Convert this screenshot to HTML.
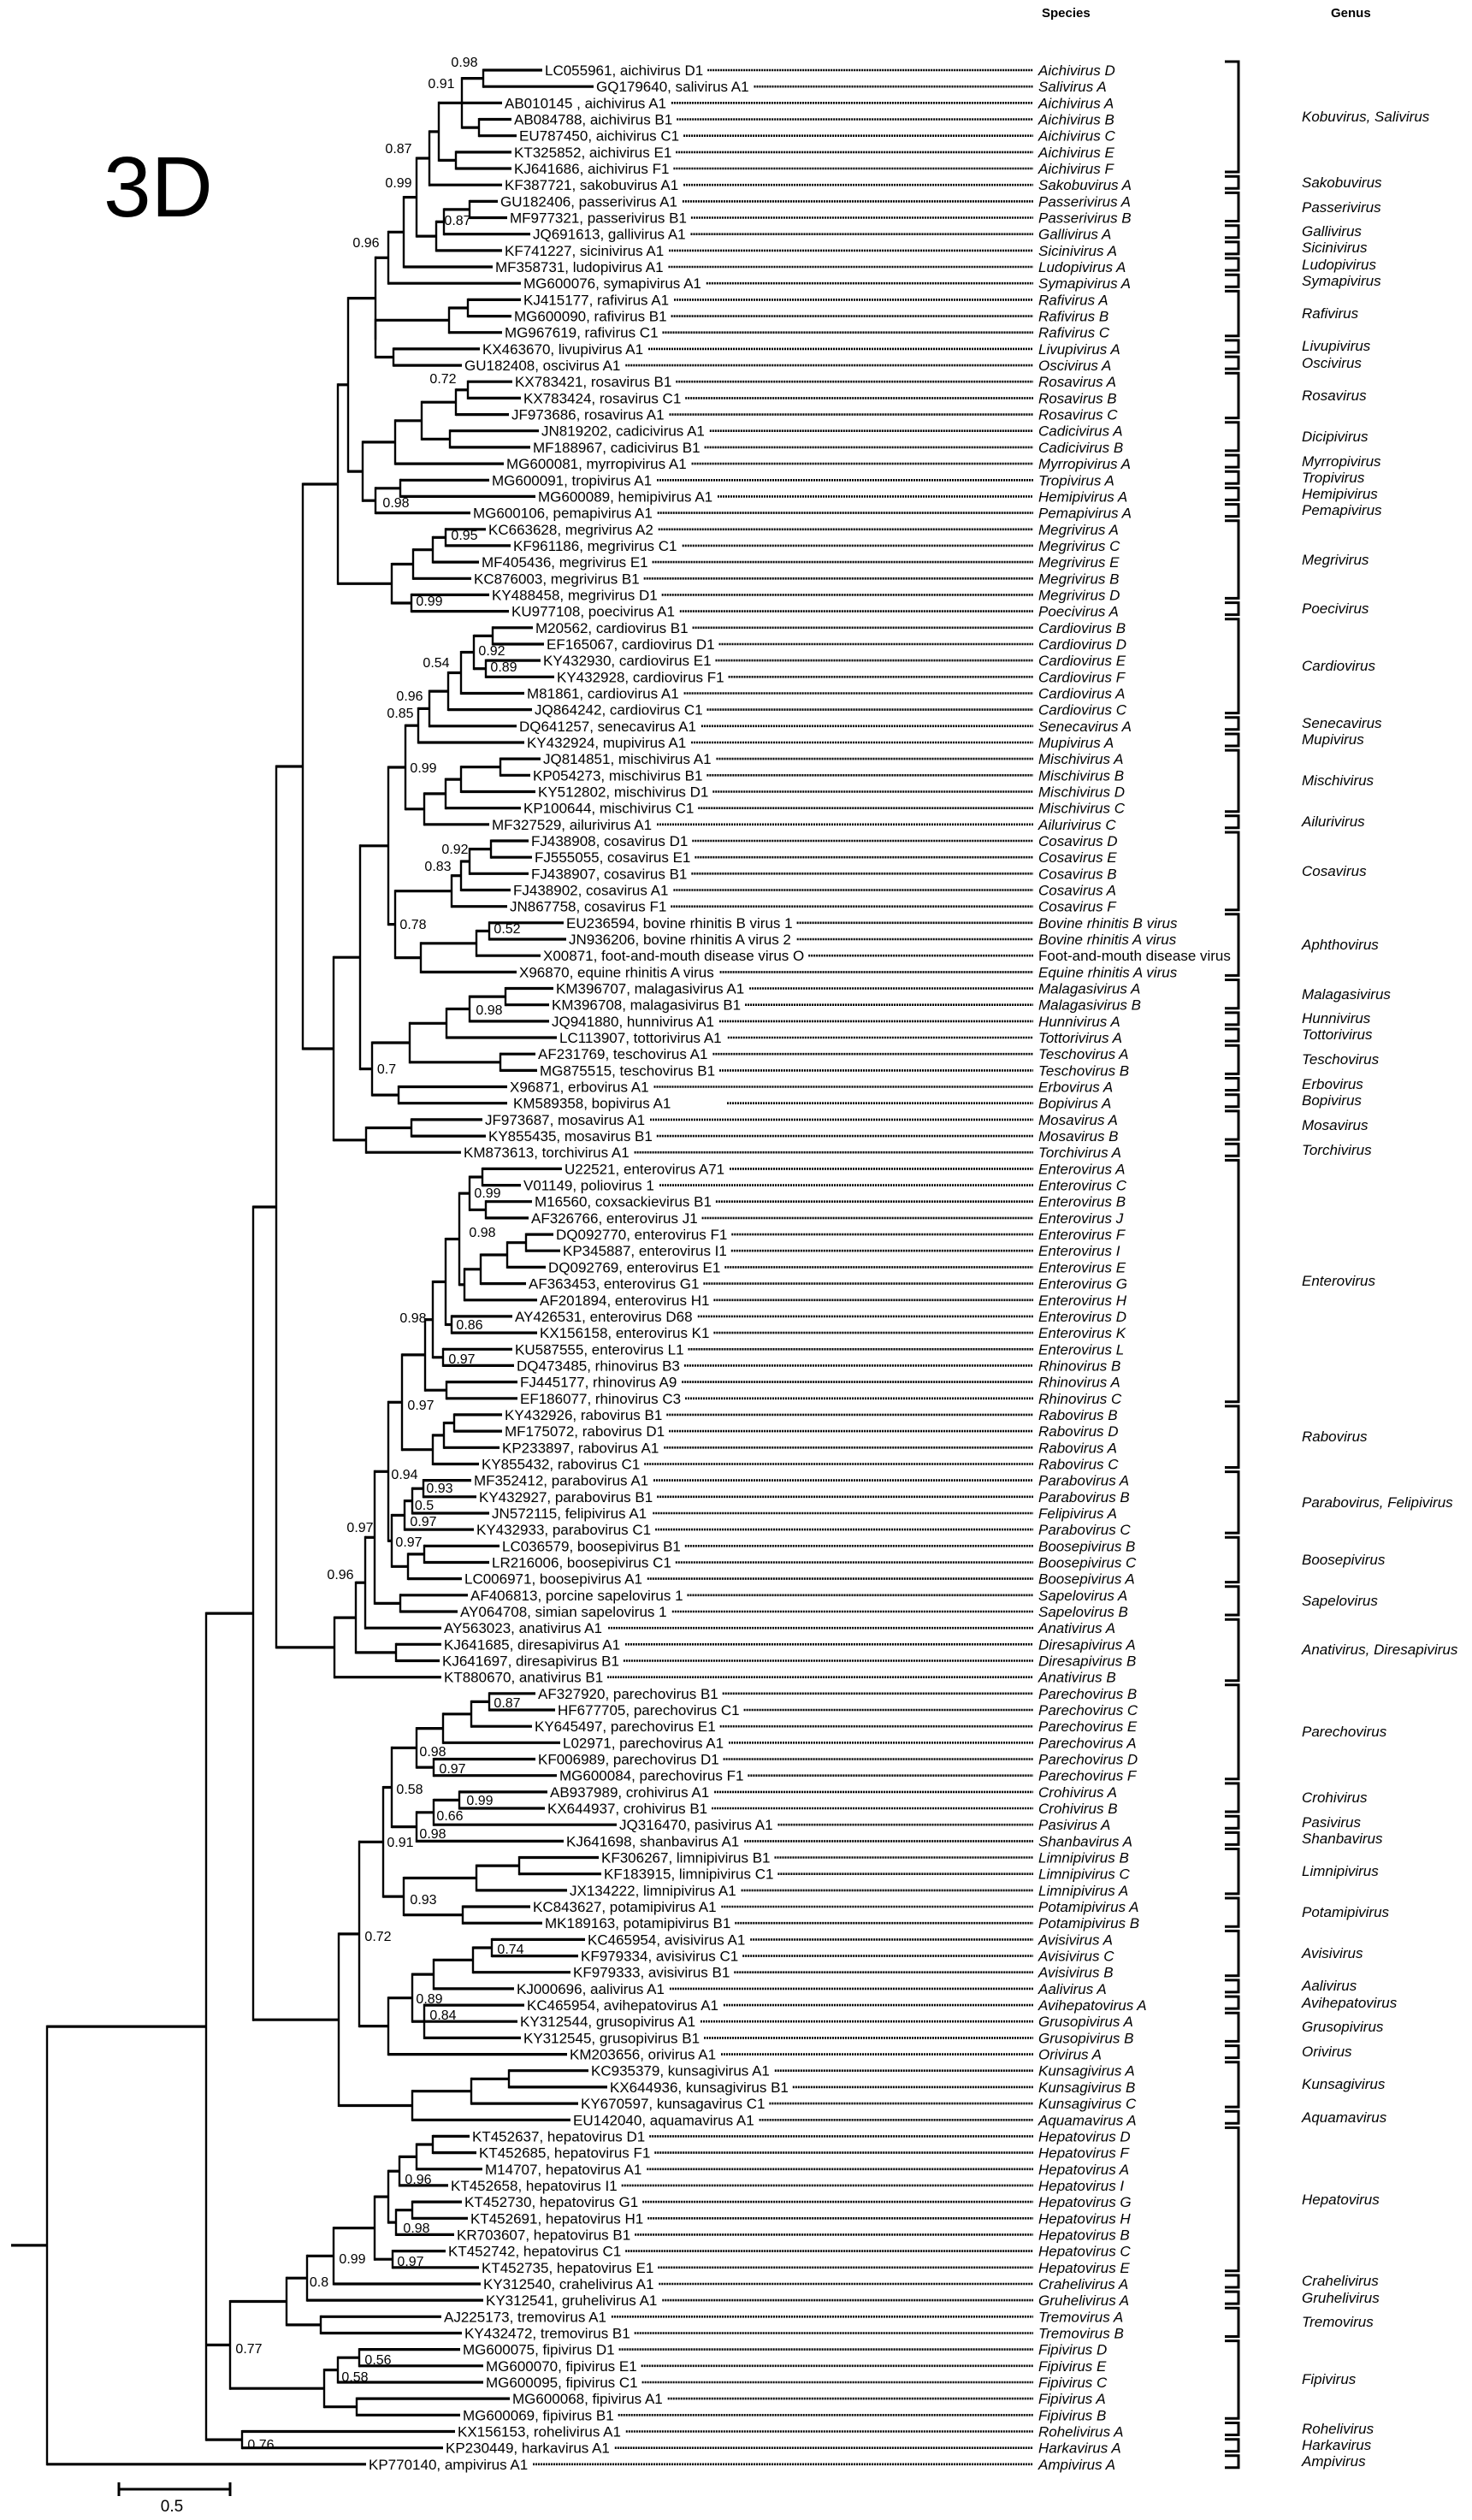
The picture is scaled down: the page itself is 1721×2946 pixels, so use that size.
<!DOCTYPE html>
<html><head><meta charset="utf-8">
<style>
html,body{margin:0;padding:0;background:#fff;}
svg{display:block;font-family:"Liberation Sans",Arial,sans-serif;}
.lab{font-size:17px;fill:#000;}
.sp{font-size:17px;font-style:italic;fill:#000;}
.gn{font-size:17px;font-style:italic;fill:#000;}
.bs{font-size:16px;fill:#000;text-anchor:middle;}
</style></head>
<body>
<svg id="s" width="1721" height="2946" viewBox="0 0 1721 2946" xmlns="http://www.w3.org/2000/svg">
<g id="lines"></g>
<text x="121" y="253" font-size="100" fill="#000">3D</text>
<text x="1218" y="20" font-size="15" font-weight="bold">Species</text>
<text x="1556" y="20" font-size="15" font-weight="bold">Genus</text>

<text id="labs" class="lab"><tspan x="637" y="88">LC055961, aichivirus D1</tspan><tspan x="697" dy="19.17">GQ179640, salivirus A1</tspan><tspan x="590" dy="19.17">AB010145 , aichivirus A1</tspan><tspan x="601" dy="19.17">AB084788, aichivirus B1</tspan><tspan x="607" dy="19.17">EU787450, aichivirus C1</tspan><tspan x="601" dy="19.17">KT325852, aichivirus E1</tspan><tspan x="601" dy="19.17">KJ641686, aichivirus F1</tspan><tspan x="590" dy="19.17">KF387721, sakobuvirus A1</tspan><tspan x="585" dy="19.17">GU182406, passerivirus A1</tspan><tspan x="596" dy="19.17">MF977321, passerivirus B1</tspan><tspan x="623" dy="19.17">JQ691613, gallivirus A1</tspan><tspan x="590" dy="19.17">KF741227, sicinivirus A1</tspan><tspan x="579" dy="19.17">MF358731, ludopivirus A1</tspan><tspan x="612" dy="19.17">MG600076, symapivirus A1</tspan><tspan x="612" dy="19.17">KJ415177, rafivirus A1</tspan><tspan x="601" dy="19.17">MG600090, rafivirus B1</tspan><tspan x="590" dy="19.17">MG967619, rafivirus C1</tspan><tspan x="564" dy="19.17">KX463670, livupivirus A1</tspan><tspan x="543" dy="19.17">GU182408, oscivirus A1</tspan><tspan x="602" dy="19.17">KX783421, rosavirus B1</tspan><tspan x="612" dy="19.17">KX783424, rosavirus C1</tspan><tspan x="598" dy="19.17">JF973686, rosavirus A1</tspan><tspan x="633" dy="19.17">JN819202, cadicivirus A1</tspan><tspan x="623" dy="19.17">MF188967, cadicivirus B1</tspan><tspan x="592" dy="19.17">MG600081, myrropivirus A1</tspan><tspan x="575" dy="19.17">MG600091, tropivirus A1</tspan><tspan x="629" dy="19.17">MG600089, hemipivirus A1</tspan><tspan x="553" dy="19.17">MG600106, pemapivirus A1</tspan><tspan x="571" dy="19.17">KC663628, megrivirus A2</tspan><tspan x="600" dy="19.17">KF961186, megrivirus C1</tspan><tspan x="563" dy="19.17">MF405436, megrivirus E1</tspan><tspan x="554" dy="19.17">KC876003, megrivirus B1</tspan><tspan x="575" dy="19.17">KY488458, megrivirus D1</tspan><tspan x="598" dy="19.17">KU977108, poecivirus A1</tspan><tspan x="626" dy="19.17">M20562, cardiovirus B1</tspan><tspan x="639" dy="19.17">EF165067, cardiovirus D1</tspan><tspan x="635" dy="19.17">KY432930, cardiovirus E1</tspan><tspan x="651" dy="19.17">KY432928, cardiovirus F1</tspan><tspan x="616" dy="19.17">M81861, cardiovirus A1</tspan><tspan x="625" dy="19.17">JQ864242, cardiovirus C1</tspan><tspan x="607" dy="19.17">DQ641257, senecavirus A1</tspan><tspan x="616" dy="19.17">KY432924, mupivirus A1</tspan><tspan x="635" dy="19.17">JQ814851, mischivirus A1</tspan><tspan x="623" dy="19.17">KP054273, mischivirus B1</tspan><tspan x="629" dy="19.17">KY512802, mischivirus D1</tspan><tspan x="612" dy="19.17">KP100644, mischivirus C1</tspan><tspan x="575" dy="19.17">MF327529, ailurivirus A1</tspan><tspan x="621" dy="19.17">FJ438908, cosavirus D1</tspan><tspan x="625" dy="19.17">FJ555055, cosavirus E1</tspan><tspan x="621" dy="19.17">FJ438907, cosavirus B1</tspan><tspan x="600" dy="19.17">FJ438902, cosavirus A1</tspan><tspan x="596" dy="19.17">JN867758, cosavirus F1</tspan><tspan x="662" dy="19.17">EU236594, bovine rhinitis B virus 1</tspan><tspan x="665" dy="19.17">JN936206, bovine rhinitis A virus 2</tspan><tspan x="635" dy="19.17">X00871, foot-and-mouth disease virus O</tspan><tspan x="607" dy="19.17">X96870, equine rhinitis A virus</tspan><tspan x="650" dy="19.17">KM396707, malagasivirus A1</tspan><tspan x="645" dy="19.17">KM396708, malagasivirus B1</tspan><tspan x="645" dy="19.17">JQ941880, hunnivirus A1</tspan><tspan x="654" dy="19.17">LC113907, tottorivirus A1</tspan><tspan x="629" dy="19.17">AF231769, teschovirus A1</tspan><tspan x="631" dy="19.17">MG875515, teschovirus B1</tspan><tspan x="596" dy="19.17">X96871, erbovirus A1</tspan><tspan x="600" dy="19.17">KM589358, bopivirus A1</tspan><tspan x="567" dy="19.17">JF973687, mosavirus A1</tspan><tspan x="571" dy="19.17">KY855435, mosavirus B1</tspan><tspan x="542" dy="19.17">KM873613, torchivirus A1</tspan><tspan x="660" dy="19.17">U22521, enterovirus A71</tspan><tspan x="612" dy="19.17">V01149, poliovirus 1</tspan><tspan x="625" dy="19.17">M16560, coxsackievirus B1</tspan><tspan x="621" dy="19.17">AF326766, enterovirus J1</tspan><tspan x="650" dy="19.17">DQ092770, enterovirus F1</tspan><tspan x="658" dy="19.17">KP345887, enterovirus I1</tspan><tspan x="641" dy="19.17">DQ092769, enterovirus E1</tspan><tspan x="618" dy="19.17">AF363453, enterovirus G1</tspan><tspan x="631" dy="19.17">AF201894, enterovirus H1</tspan><tspan x="602" dy="19.17">AY426531, enterovirus D68</tspan><tspan x="631" dy="19.17">KX156158, enterovirus K1</tspan><tspan x="602" dy="19.17">KU587555, enterovirus L1</tspan><tspan x="604" dy="19.17">DQ473485, rhinovirus B3</tspan><tspan x="608" dy="19.17">FJ445177, rhinovirus A9</tspan><tspan x="608" dy="19.17">EF186077, rhinovirus C3</tspan><tspan x="590" dy="19.17">KY432926, rabovirus B1</tspan><tspan x="590" dy="19.17">MF175072, rabovirus D1</tspan><tspan x="587" dy="19.17">KP233897, rabovirus A1</tspan><tspan x="563" dy="19.17">KY855432, rabovirus C1</tspan><tspan x="554" dy="19.17">MF352412, parabovirus A1</tspan><tspan x="560" dy="19.17">KY432927, parabovirus B1</tspan><tspan x="575" dy="19.17">JN572115, felipivirus A1</tspan><tspan x="557" dy="19.17">KY432933, parabovirus C1</tspan><tspan x="587" dy="19.17">LC036579, boosepivirus B1</tspan><tspan x="575" dy="19.17">LR216006, boosepivirus C1</tspan><tspan x="543" dy="19.17">LC006971, boosepivirus A1</tspan><tspan x="550" dy="19.17">AF406813, porcine sapelovirus 1</tspan><tspan x="538" dy="19.17">AY064708, simian sapelovirus 1</tspan><tspan x="519" dy="19.17">AY563023, anativirus A1</tspan><tspan x="519" dy="19.17">KJ641685, diresapivirus A1</tspan><tspan x="517" dy="19.17">KJ641697, diresapivirus B1</tspan><tspan x="519" dy="19.17">KT880670, anativirus B1</tspan><tspan x="629" dy="19.17">AF327920, parechovirus B1</tspan><tspan x="652" dy="19.17">HF677705, parechovirus C1</tspan><tspan x="625" dy="19.17">KY645497, parechovirus E1</tspan><tspan x="658" dy="19.17">L02971, parechovirus A1</tspan><tspan x="629" dy="19.17">KF006989, parechovirus D1</tspan><tspan x="654" dy="19.17">MG600084, parechovirus F1</tspan><tspan x="643" dy="19.17">AB937989, crohivirus A1</tspan><tspan x="640" dy="19.17">KX644937, crohivirus B1</tspan><tspan x="724" dy="19.17">JQ316470, pasivirus A1</tspan><tspan x="662" dy="19.17">KJ641698, shanbavirus A1</tspan><tspan x="703" dy="19.17">KF306267, limnipivirus B1</tspan><tspan x="706" dy="19.17">KF183915, limnipivirus C1</tspan><tspan x="666" dy="19.17">JX134222, limnipivirus A1</tspan><tspan x="623" dy="19.17">KC843627, potamipivirus A1</tspan><tspan x="637" dy="19.17">MK189163, potamipivirus B1</tspan><tspan x="687" dy="19.17">KC465954, avisivirus A1</tspan><tspan x="679" dy="19.17">KF979334, avisivirus C1</tspan><tspan x="670" dy="19.17">KF979333, avisivirus B1</tspan><tspan x="604" dy="19.17">KJ000696, aalivirus A1</tspan><tspan x="616" dy="19.17">KC465954, avihepatovirus A1</tspan><tspan x="608" dy="19.17">KY312544, grusopivirus A1</tspan><tspan x="612" dy="19.17">KY312545, grusopivirus B1</tspan><tspan x="666" dy="19.17">KM203656, orivirus A1</tspan><tspan x="691" dy="19.17">KC935379, kunsagivirus A1</tspan><tspan x="713" dy="19.17">KX644936, kunsagivirus B1</tspan><tspan x="679" dy="19.17">KY670597, kunsagavirus C1</tspan><tspan x="670" dy="19.17">EU142040, aquamavirus A1</tspan><tspan x="552" dy="19.17">KT452637, hepatovirus D1</tspan><tspan x="560" dy="19.17">KT452685, hepatovirus F1</tspan><tspan x="567" dy="19.17">M14707, hepatovirus A1</tspan><tspan x="527" dy="19.17">KT452658, hepatovirus I1</tspan><tspan x="543" dy="19.17">KT452730, hepatovirus G1</tspan><tspan x="550" dy="19.17">KT452691, hepatovirus H1</tspan><tspan x="534" dy="19.17">KR703607, hepatovirus B1</tspan><tspan x="524" dy="19.17">KT452742, hepatovirus C1</tspan><tspan x="563" dy="19.17">KT452735, hepatovirus E1</tspan><tspan x="565" dy="19.17">KY312540, crahelivirus A1</tspan><tspan x="568" dy="19.17">KY312541, gruhelivirus A1</tspan><tspan x="519" dy="19.17">AJ225173, tremovirus A1</tspan><tspan x="543" dy="19.17">KY432472, tremovirus B1</tspan><tspan x="541" dy="19.17">MG600075, fipivirus D1</tspan><tspan x="568" dy="19.17">MG600070, fipivirus E1</tspan><tspan x="568" dy="19.17">MG600095, fipivirus C1</tspan><tspan x="599" dy="19.17">MG600068, fipivirus A1</tspan><tspan x="541" dy="19.17">MG600069, fipivirus B1</tspan><tspan x="535" dy="19.17">KX156153, rohelivirus A1</tspan><tspan x="521" dy="19.17">KP230449, harkavirus A1</tspan><tspan x="431" dy="19.17">KP770140, ampivirus A1</tspan></text>

<text class="sp"><tspan x="1214" y="88">Aichivirus D</tspan><tspan x="1214" dy="19.17">Salivirus A</tspan><tspan x="1214" dy="19.17">Aichivirus A</tspan><tspan x="1214" dy="19.17">Aichivirus B</tspan><tspan x="1214" dy="19.17">Aichivirus C</tspan><tspan x="1214" dy="19.17">Aichivirus E</tspan><tspan x="1214" dy="19.17">Aichivirus F</tspan><tspan x="1214" dy="19.17">Sakobuvirus A</tspan><tspan x="1214" dy="19.17">Passerivirus A</tspan><tspan x="1214" dy="19.17">Passerivirus B</tspan><tspan x="1214" dy="19.17">Gallivirus A</tspan><tspan x="1214" dy="19.17">Sicinivirus A</tspan><tspan x="1214" dy="19.17">Ludopivirus A</tspan><tspan x="1214" dy="19.17">Symapivirus A</tspan><tspan x="1214" dy="19.17">Rafivirus A</tspan><tspan x="1214" dy="19.17">Rafivirus B</tspan><tspan x="1214" dy="19.17">Rafivirus C</tspan><tspan x="1214" dy="19.17">Livupivirus A</tspan><tspan x="1214" dy="19.17">Oscivirus A</tspan><tspan x="1214" dy="19.17">Rosavirus A</tspan><tspan x="1214" dy="19.17">Rosavirus B</tspan><tspan x="1214" dy="19.17">Rosavirus C</tspan><tspan x="1214" dy="19.17">Cadicivirus A</tspan><tspan x="1214" dy="19.17">Cadicivirus B</tspan><tspan x="1214" dy="19.17">Myrropivirus A</tspan><tspan x="1214" dy="19.17">Tropivirus A</tspan><tspan x="1214" dy="19.17">Hemipivirus A</tspan><tspan x="1214" dy="19.17">Pemapivirus A</tspan><tspan x="1214" dy="19.17">Megrivirus A</tspan><tspan x="1214" dy="19.17">Megrivirus C</tspan><tspan x="1214" dy="19.17">Megrivirus E</tspan><tspan x="1214" dy="19.17">Megrivirus B</tspan><tspan x="1214" dy="19.17">Megrivirus D</tspan><tspan x="1214" dy="19.17">Poecivirus A</tspan><tspan x="1214" dy="19.17">Cardiovirus B</tspan><tspan x="1214" dy="19.17">Cardiovirus D</tspan><tspan x="1214" dy="19.17">Cardiovirus E</tspan><tspan x="1214" dy="19.17">Cardiovirus F</tspan><tspan x="1214" dy="19.17">Cardiovirus A</tspan><tspan x="1214" dy="19.17">Cardiovirus C</tspan><tspan x="1214" dy="19.17">Senecavirus A</tspan><tspan x="1214" dy="19.17">Mupivirus A</tspan><tspan x="1214" dy="19.17">Mischivirus A</tspan><tspan x="1214" dy="19.17">Mischivirus B</tspan><tspan x="1214" dy="19.17">Mischivirus D</tspan><tspan x="1214" dy="19.17">Mischivirus C</tspan><tspan x="1214" dy="19.17">Ailurivirus C</tspan><tspan x="1214" dy="19.17">Cosavirus D</tspan><tspan x="1214" dy="19.17">Cosavirus E</tspan><tspan x="1214" dy="19.17">Cosavirus B</tspan><tspan x="1214" dy="19.17">Cosavirus A</tspan><tspan x="1214" dy="19.17">Cosavirus F</tspan><tspan x="1214" dy="19.17">Bovine rhinitis B virus</tspan><tspan x="1214" dy="19.17">Bovine rhinitis A virus</tspan><tspan x="1214" dy="19.17" font-style="normal">Foot-and-mouth  disease virus</tspan><tspan x="1214" dy="19.17">Equine rhinitis A virus</tspan><tspan x="1214" dy="19.17">Malagasivirus A</tspan><tspan x="1214" dy="19.17">Malagasivirus B</tspan><tspan x="1214" dy="19.17">Hunnivirus A</tspan><tspan x="1214" dy="19.17">Tottorivirus A</tspan><tspan x="1214" dy="19.17">Teschovirus A</tspan><tspan x="1214" dy="19.17">Teschovirus B</tspan><tspan x="1214" dy="19.17">Erbovirus A</tspan><tspan x="1214" dy="19.17">Bopivirus A</tspan><tspan x="1214" dy="19.17">Mosavirus A</tspan><tspan x="1214" dy="19.17">Mosavirus B</tspan><tspan x="1214" dy="19.17">Torchivirus A</tspan><tspan x="1214" dy="19.17">Enterovirus A</tspan><tspan x="1214" dy="19.17">Enterovirus C</tspan><tspan x="1214" dy="19.17">Enterovirus B</tspan><tspan x="1214" dy="19.17">Enterovirus J</tspan><tspan x="1214" dy="19.17">Enterovirus F</tspan><tspan x="1214" dy="19.17">Enterovirus I</tspan><tspan x="1214" dy="19.17">Enterovirus E</tspan><tspan x="1214" dy="19.17">Enterovirus G</tspan><tspan x="1214" dy="19.17">Enterovirus H</tspan><tspan x="1214" dy="19.17">Enterovirus D</tspan><tspan x="1214" dy="19.17">Enterovirus K</tspan><tspan x="1214" dy="19.17">Enterovirus L</tspan><tspan x="1214" dy="19.17">Rhinovirus B</tspan><tspan x="1214" dy="19.17">Rhinovirus A</tspan><tspan x="1214" dy="19.17">Rhinovirus C</tspan><tspan x="1214" dy="19.17">Rabovirus B</tspan><tspan x="1214" dy="19.17">Rabovirus D</tspan><tspan x="1214" dy="19.17">Rabovirus A</tspan><tspan x="1214" dy="19.17">Rabovirus C</tspan><tspan x="1214" dy="19.17">Parabovirus A</tspan><tspan x="1214" dy="19.17">Parabovirus B</tspan><tspan x="1214" dy="19.17">Felipivirus A</tspan><tspan x="1214" dy="19.17">Parabovirus C</tspan><tspan x="1214" dy="19.17">Boosepivirus B</tspan><tspan x="1214" dy="19.17">Boosepivirus C</tspan><tspan x="1214" dy="19.17">Boosepivirus A</tspan><tspan x="1214" dy="19.17">Sapelovirus A</tspan><tspan x="1214" dy="19.17">Sapelovirus B</tspan><tspan x="1214" dy="19.17">Anativirus A</tspan><tspan x="1214" dy="19.17">Diresapivirus A</tspan><tspan x="1214" dy="19.17">Diresapivirus B</tspan><tspan x="1214" dy="19.17">Anativirus B</tspan><tspan x="1214" dy="19.17">Parechovirus B</tspan><tspan x="1214" dy="19.17">Parechovirus C</tspan><tspan x="1214" dy="19.17">Parechovirus E</tspan><tspan x="1214" dy="19.17">Parechovirus A</tspan><tspan x="1214" dy="19.17">Parechovirus D</tspan><tspan x="1214" dy="19.17">Parechovirus F</tspan><tspan x="1214" dy="19.17">Crohivirus A</tspan><tspan x="1214" dy="19.17">Crohivirus B</tspan><tspan x="1214" dy="19.17">Pasivirus A</tspan><tspan x="1214" dy="19.17">Shanbavirus A</tspan><tspan x="1214" dy="19.17">Limnipivirus B</tspan><tspan x="1214" dy="19.17">Limnipivirus C</tspan><tspan x="1214" dy="19.17">Limnipivirus A</tspan><tspan x="1214" dy="19.17">Potamipivirus A</tspan><tspan x="1214" dy="19.17">Potamipivirus B</tspan><tspan x="1214" dy="19.17">Avisivirus A</tspan><tspan x="1214" dy="19.17">Avisivirus C</tspan><tspan x="1214" dy="19.17">Avisivirus B</tspan><tspan x="1214" dy="19.17">Aalivirus A</tspan><tspan x="1214" dy="19.17">Avihepatovirus A</tspan><tspan x="1214" dy="19.17">Grusopivirus A</tspan><tspan x="1214" dy="19.17">Grusopivirus B</tspan><tspan x="1214" dy="19.17">Orivirus A</tspan><tspan x="1214" dy="19.17">Kunsagivirus A</tspan><tspan x="1214" dy="19.17">Kunsagivirus B</tspan><tspan x="1214" dy="19.17">Kunsagivirus C</tspan><tspan x="1214" dy="19.17">Aquamavirus A</tspan><tspan x="1214" dy="19.17">Hepatovirus D</tspan><tspan x="1214" dy="19.17">Hepatovirus F</tspan><tspan x="1214" dy="19.17">Hepatovirus A</tspan><tspan x="1214" dy="19.17">Hepatovirus I</tspan><tspan x="1214" dy="19.17">Hepatovirus G</tspan><tspan x="1214" dy="19.17">Hepatovirus H</tspan><tspan x="1214" dy="19.17">Hepatovirus B</tspan><tspan x="1214" dy="19.17">Hepatovirus C</tspan><tspan x="1214" dy="19.17">Hepatovirus E</tspan><tspan x="1214" dy="19.17">Crahelivirus A</tspan><tspan x="1214" dy="19.17">Gruhelivirus A</tspan><tspan x="1214" dy="19.17">Tremovirus A</tspan><tspan x="1214" dy="19.17">Tremovirus B</tspan><tspan x="1214" dy="19.17">Fipivirus D</tspan><tspan x="1214" dy="19.17">Fipivirus E</tspan><tspan x="1214" dy="19.17">Fipivirus C</tspan><tspan x="1214" dy="19.17">Fipivirus A</tspan><tspan x="1214" dy="19.17">Fipivirus B</tspan><tspan x="1214" dy="19.17">Rohelivirus A</tspan><tspan x="1214" dy="19.17">Harkavirus A</tspan><tspan x="1214" dy="19.17">Ampivirus A</tspan></text>

<g class="gn">
<text x="1522" y="142">Kobuvirus, Salivirus</text>
<text x="1522" y="219">Sakobuvirus</text>
<text x="1522" y="248">Passerivirus</text>
<text x="1522" y="276">Gallivirus</text>
<text x="1522" y="295">Sicinivirus</text>
<text x="1522" y="315">Ludopivirus</text>
<text x="1522" y="334">Symapivirus</text>
<text x="1522" y="372">Rafivirus</text>
<text x="1522" y="410">Livupivirus</text>
<text x="1522" y="430">Oscivirus</text>
<text x="1522" y="468">Rosavirus</text>
<text x="1522" y="516">Dicipivirus</text>
<text x="1522" y="545">Myrropivirus</text>
<text x="1522" y="564">Tropivirus</text>
<text x="1522" y="583">Hemipivirus</text>
<text x="1522" y="602">Pemapivirus</text>
<text x="1522" y="660">Megrivirus</text>
<text x="1522" y="717">Poecivirus</text>
<text x="1522" y="784">Cardiovirus</text>
<text x="1522" y="851">Senecavirus</text>
<text x="1522" y="870">Mupivirus</text>
<text x="1522" y="918">Mischivirus</text>
<text x="1522" y="966">Ailurivirus</text>
<text x="1522" y="1024">Cosavirus</text>
<text x="1522" y="1110">Aphthovirus</text>
<text x="1522" y="1168">Malagasivirus</text>
<text x="1522" y="1196">Hunnivirus</text>
<text x="1522" y="1215">Tottorivirus</text>
<text x="1522" y="1244">Teschovirus</text>
<text x="1522" y="1273">Erbovirus</text>
<text x="1522" y="1292">Bopivirus</text>
<text x="1522" y="1321">Mosavirus</text>
<text x="1522" y="1350">Torchivirus</text>
<text x="1522" y="1503">Enterovirus</text>
<text x="1522" y="1685">Rabovirus</text>
<text x="1522" y="1762">Parabovirus, Felipivirus</text>
<text x="1522" y="1829">Boosepivirus</text>
<text x="1522" y="1877">Sapelovirus</text>
<text x="1522" y="1934">Anativirus, Diresapivirus</text>
<text x="1522" y="2030">Parechovirus</text>
<text x="1522" y="2107">Crohivirus</text>
<text x="1522" y="2136">Pasivirus</text>
<text x="1522" y="2155">Shanbavirus</text>
<text x="1522" y="2193">Limnipivirus</text>
<text x="1522" y="2241">Potamipivirus</text>
<text x="1522" y="2289">Avisivirus</text>
<text x="1522" y="2327">Aalivirus</text>
<text x="1522" y="2347">Avihepatovirus</text>
<text x="1522" y="2375">Grusopivirus</text>
<text x="1522" y="2404">Orivirus</text>
<text x="1522" y="2442">Kunsagivirus</text>
<text x="1522" y="2481">Aquamavirus</text>
<text x="1522" y="2577">Hepatovirus</text>
<text x="1522" y="2672">Crahelivirus</text>
<text x="1522" y="2692">Gruhelivirus</text>
<text x="1522" y="2720">Tremovirus</text>
<text x="1522" y="2787">Fipivirus</text>
<text x="1522" y="2845">Rohelivirus</text>
<text x="1522" y="2864">Harkavirus</text>
<text x="1522" y="2883">Ampivirus</text>
</g>

<g class="bs">
<text x="543" y="78">0.98</text><text x="516" y="103">0.91</text><text x="466" y="179">0.87</text><text x="466" y="219">0.99</text><text x="535" y="263">0.87</text><text x="428" y="289">0.96</text>
<text x="518" y="448">0.72</text><text x="463" y="593">0.98</text><text x="543" y="631">0.95</text>
<text x="502" y="708">0.99</text><text x="575" y="766">0.92</text><text x="510" y="780">0.54</text><text x="589" y="785">0.89</text><text x="479" y="819">0.96</text><text x="468" y="839">0.85</text><text x="495" y="903">0.99</text>
<text x="532" y="998">0.92</text><text x="512" y="1018">0.83</text><text x="483" y="1086">0.78</text><text x="593" y="1091">0.52</text><text x="572" y="1186">0.98</text>
<text x="452" y="1255">0.7</text><text x="570" y="1400">0.99</text><text x="564" y="1446">0.98</text>
<text x="483" y="1546">0.98</text><text x="549" y="1554">0.86</text><text x="540" y="1594">0.97</text><text x="492" y="1648">0.97</text><text x="473" y="1729">0.94</text><text x="514" y="1745">0.93</text><text x="496" y="1765">0.5</text><text x="495" y="1784">0.97</text><text x="421" y="1791">0.97</text>
<text x="478" y="1808">0.97</text><text x="398" y="1846">0.96</text><text x="593" y="1996">0.87</text><text x="506" y="2053">0.98</text><text x="529" y="2073">0.97</text>
<text x="479" y="2097">0.58</text><text x="561" y="2110">0.99</text><text x="526" y="2128">0.66</text><text x="506" y="2149">0.98</text><text x="468" y="2159">0.91</text><text x="495" y="2226">0.93</text><text x="442" y="2269">0.72</text><text x="597" y="2284">0.74</text><text x="502" y="2342">0.89</text><text x="518" y="2361">0.84</text>
<text x="489" y="2553">0.96</text><text x="487" y="2610">0.98</text><text x="412" y="2646">0.99</text><text x="480" y="2649">0.97</text><text x="373" y="2673">0.8</text><text x="291" y="2751">0.77</text><text x="442" y="2764">0.56</text><text x="415" y="2784">0.58</text><text x="305" y="2863">0.76</text>
</g>
<text x="201" y="2936" font-size="19" text-anchor="middle">0.5</text>
</svg>
<script>
(function(){
var tips=[0,634,694,587,598,604,598,598,587,582,593,620,587,576,609,609,598,587,561,540,599,609,595,630,620,589,572,626,550,568,597,560,551,572,595,623,636,632,648,613,622,604,613,632,620,626,609,572,618,622,618,597,593,659,662,632,604,647,642,642,651,626,628,593,593,564,568,539,657,609,622,618,647,655,638,615,628,599,628,599,601,605,605,587,587,584,560,551,557,572,554,584,572,540,547,535,516,516,514,516,626,649,622,655,626,651,640,637,721,659,700,703,663,620,634,684,676,667,601,613,605,609,663,688,710,676,667,549,557,564,524,540,547,531,521,560,562,565,516,540,538,565,565,596,538,532,518,428];
function Y(i){return 82+(i-1)*19.17;}
function N(){return Array.prototype.slice.call(arguments);}
var P=N(565,1,2),Q=N(560,4,5),Nn=N(540,P,3,Q),O=N(533,6,7),M=N(513,Nn,O),K=N(502,M,8);
var S=N(549,9,10),R=N(519,S,11),Ln=N(510,R,12),J=N(487,K,Ln),I=N(472,J,13),H=N(454,I,14);
var V=N(547,15,16),W=N(525,V,17),U=N(460,18,19),T=N(439,W,U),G=N(439,H,T);
var AD=N(547,20,21),AB=N(533,AD,22),AC=N(526,23,24),AA=N(493,AB,AC),Yn=N(462,AA,25);
var AE=N(468,26,27),Z=N(439,AE,28),X=N(424,Yn,Z),F=N(407,G,X);
var AH=N(521,29,30),AI=N(506,AH,31),AJ=N(483,AI,32),AK=N(481,33,34),AF=N(458,AJ,AK),E=N(395,F,AF);
var BN=N(576,35,36),BO=N(568,37,38),BP=N(554,BN,BO),BM=N(539,BP,39),BL=N(524,BM,40),BK=N(502,BL,41),BI=N(489,BK,42);
var BS=N(585,43,44),BR=N(539,BS,45),BQ=N(521,BR,46),BJ=N(496,BQ,47),BF=N(474,BI,BJ);
var BU=N(574,48,49),BV=N(549,BU,50),BW=N(539,BV,51),BT=N(528,BW,52);
var BY=N(572,53,54),BZ=N(557,BY,55),BX=N(492,BZ,56),BH=N(462,BT,BX),BE=N(454,BF,BH);
var CF=N(591,57,58),CG=N(549,CF,59),CD=N(522,CG,60),CE=N(585,61,62),CB=N(479,CD,CE),CC=N(466,63,64),CA=N(435,CB,CC);
var BB=N(421,BE,CA),BD=N(481,65,66),BC=N(428,BD,67),BA=N(390,BB,BC),D=N(354,E,BA);
var DX=N(549,N(564,68,69),N(568,70,71)),EB=N(615,72,73),EA=N(593,EB,74),DY=N(562,EA,75),DZ=N(543,DY,76),DV=N(537,DX,DZ);
var DW=N(528,77,78),DT=N(521,DV,DW),DU=N(518,79,80),DS=N(506,DT,DU),Nr=N(522,81,82),DO=N(497,DS,Nr);
var DQ=N(531,83,84),DR=N(519,DQ,85),DP=N(506,DR,86),DH=N(470,DO,DP);
var DI=N(495,87,88),DJ=N(482,DI,89),DK=N(473,DJ,90),DL=N(496,91,92),DM=N(477,DL,93),DN=N(458,DK,DM),DF=N(454,DH,DN);
var DG=N(468,94,95),DE=N(438,DF,DG),DC=N(427,DE,96),DD=N(463,97,98),DB=N(416,DC,DD),DA=N(391,DB,99),C=N(323,D,DA);
var FO=N(572,100,101),FN=N(551,FO,102),FL=N(518,FN,103),FM=N(507,104,105),FJ=N(487,FL,FM);
var FQ=N(537,106,107),FP=N(507,FQ,108),FK=N(487,FP,109),FH=N(458,FJ,FK);
var FS=N(607,110,111),FR=N(557,FS,112),FT=N(541,113,114),FI=N(472,FR,FT),FF=N(448,FH,FI);
var FY=N(575,115,116),FX=N(553,FY,117),FV=N(507,FX,118),FW=N(496,119,120,121),FU=N(482,FV,FW),FG=N(454,FU,122),FB=N(420,FF,FG);
var FE=N(595,123,124),FD=N(551,FE,125),FC=N(482,FD,126),FA=N(396,FB,FC),B=N(296,C,FA);
var GA=N(506,127,128),GB=N(487,GA,129),GC=N(467,GB,130),GD=N(482,131,132),GE=N(463,GD,133),GF=N(454,GC,GE),GH=N(459,134,135);
var GG=N(438,GF,GH),GI=N(390,GG,136),GJ=N(359,GI,137),GL=N(375,138,139),GK=N(335,GJ,GL);
var GM=N(420,140,141),GN=N(395,GM,142),GO=N(417,143,144),GP=N(379,GN,GO),G77=N(269,GK,GP),RH=N(283,145,146);
var A=N(241,B,G77,RH),ROOT=N(55,A,147);
var out=[];
function hl(x1,x2,y){out.push('<line x1="'+x1+'" y1="'+y.toFixed(1)+'" x2="'+x2+'" y2="'+y.toFixed(1)+'" stroke="#000" stroke-width="3.2"/>');}
function vl(x,y1,y2){out.push('<line x1="'+x+'" y1="'+(y1-1.5).toFixed(1)+'" x2="'+x+'" y2="'+(y2+1.5).toFixed(1)+'" stroke="#000" stroke-width="2.4"/>');}
function draw(n,px){
 if(typeof n==='number'){var y=Y(n);hl(px,tips[n],y);return y;}
 var x=n[0],ys=[];
 for(var i=1;i<n.length;i++)ys.push(draw(n[i],x));
 var y0=ys[0],y1=ys[ys.length-1];vl(x,y0,y1);
 var y=(y0+y1)/2;if(px!=null)hl(px,x,y);return y;
}
// Arial/Liberation Sans advance widths (per 1000 em)
var W={' ':278,',':278,'.':278,'-':333,'0':556,'1':556,'2':556,'3':556,'4':556,'5':556,'6':556,'7':556,'8':556,'9':556,
A:667,B:667,C:722,D:722,E:667,F:611,G:778,H:722,I:278,J:500,K:667,L:556,M:833,N:722,O:778,P:667,Q:778,R:722,S:667,T:611,U:722,V:667,W:944,X:667,Y:667,Z:611,
a:556,b:556,c:500,d:556,e:556,f:278,g:556,h:556,i:222,j:222,k:500,l:222,m:833,n:556,o:556,p:556,q:556,r:333,s:500,t:278,u:556,v:500,w:722,x:500,y:500,z:500};
function tw(s){s=s.replace(/\s+/g,' ');var w=0;for(var i=0;i<s.length;i++){w+=(W[s[i]]||556);}return w*17/1000;}
var spans=document.getElementById('labs').getElementsByTagName('tspan');
for(var i=1;i<=147;i++){
 var sp=spans[i-1];var sx=parseFloat(sp.getAttribute('x'));
 var s=sx+tw(sp.textContent)+5;
 if(i==64)s=850;var y=Y(i);
 out.push('<line x1="'+s.toFixed(1)+'" y1="'+y.toFixed(1)+'" x2="1208" y2="'+y.toFixed(1)+'" stroke="#000" stroke-width="2.6" stroke-dasharray="2,1"/>');}
var ry=draw(ROOT,null);hl(13,55,ry);
var groups=[[1,7],[8,8],[9,10],[11,11],[12,12],[13,13],[14,14],[15,17],[18,18],[19,19],[20,22],[23,24],[25,25],[26,26],[27,27],[28,28],[29,33],[34,34],[35,40],[41,41],[42,42],[43,46],[47,47],[48,52],[53,56],[57,58],[59,59],[60,60],[61,62],[63,63],[64,64],[65,66],[67,67],[68,82],[83,86],[87,90],[91,93],[94,95],[96,99],[100,105],[106,107],[108,108],[109,109],[110,112],[113,114],[115,117],[118,118],[119,119],[120,121],[122,122],[123,125],[126,126],[127,135],[136,136],[137,137],[138,139],[140,144],[145,145],[146,146],[147,147]];
groups.forEach(function(g){var t=Y(g[0])-10,b=Y(g[1])+4;
 out.push('<path d="M1432 '+t.toFixed(1)+'H1448V'+b.toFixed(1)+'H1432" fill="none" stroke="#000" stroke-width="3"/>');});
out.push('<path d="M139 2910H269M139 2902V2918M269 2902V2918" fill="none" stroke="#000" stroke-width="3"/>');
document.getElementById('lines').innerHTML=out.join('');
})();
</script>
</body></html>
